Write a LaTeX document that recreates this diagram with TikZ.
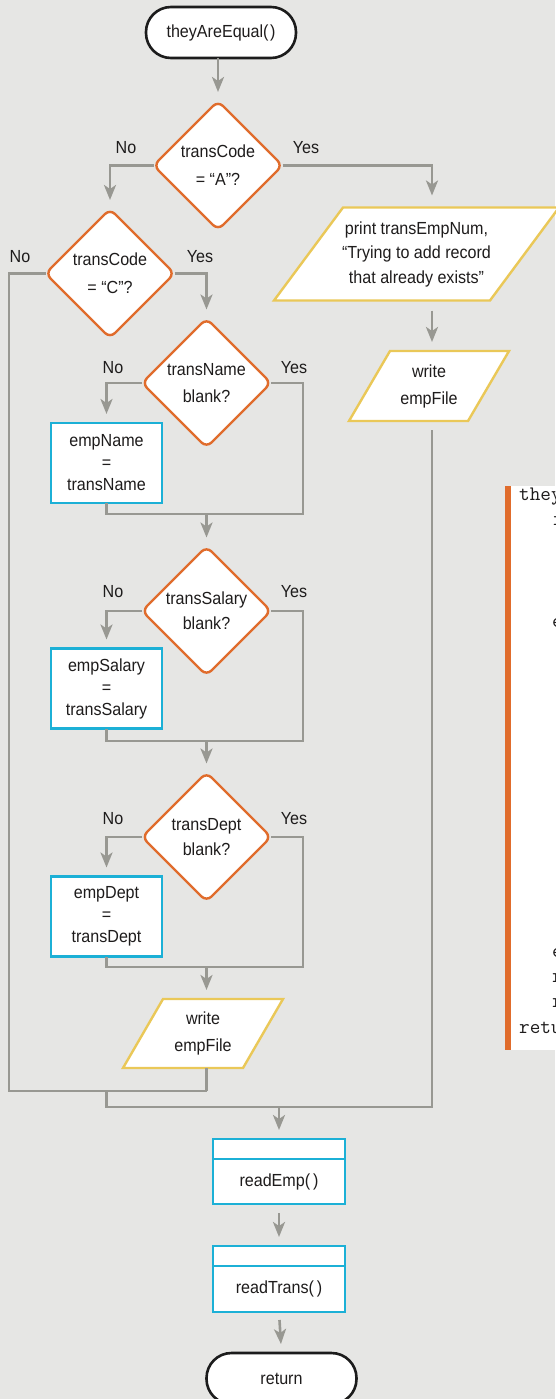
\documentclass[tikz,border=0pt]{standalone}
\usepackage{fontspec}
\setmainfont{Liberation Sans}[FakeStretch=0.92]
\usetikzlibrary{shapes.geometric,arrows.meta}
\pgfdeclarelayer{layerA}
\pgfdeclarelayer{layerB}
\pgfsetlayers{layerA,layerB,main}
\definecolor{bgc}{RGB}{230,230,228}
\definecolor{lnc}{RGB}{152,152,146}
\definecolor{orc}{RGB}{224,108,44}
\definecolor{cyc}{RGB}{28,176,214}
\definecolor{yec}{RGB}{234,200,88}
\definecolor{tmc}{RGB}{28,28,28}
\definecolor{txc}{RGB}{30,28,28}
\tikzset{
  base/.style={font=\fontsize{17.5}{22}\selectfont, text=txc, align=center, inner sep=0pt, outer sep=0pt},
  term/.style={base, draw=tmc, line width=2.6pt, fill=white, rounded corners=25pt, minimum width=150pt, minimum height=51pt},
  dec/.style={base, shape=diamond, aspect=1, draw=orc, line width=2.4pt, fill=white, rounded corners=7pt, minimum width=129pt, minimum height=129pt},
  proc/.style={base, draw=cyc, line width=2.8pt, fill=white, minimum width=111pt, minimum height=80pt},
  sub/.style={draw=cyc, line width=2.8pt, fill=white},
  iotext/.style={base},
  io/.style={draw=yec, line width=2.4pt, fill=white},
  conn/.style={draw=lnc, line width=2.6pt},
  arr/.style={conn, -{Stealth[length=15pt,width=12pt,inset=4pt]}, shorten >=9pt},
  lbl/.style={font=\fontsize{17.5}{20}\selectfont, text=txc, inner sep=0pt},
  code/.style={font=\ttfamily\fontsize{20.6}{25}\selectfont, text=txc, anchor=base west, inner sep=0pt},
}
\begin{document}
\begin{tikzpicture}[x=1pt,y=-1pt]
\useasboundingbox (0,0) rectangle (555,1399);
\clip (0,0) rectangle (555,1399);
\begin{pgfonlayer}{layerA}
\fill[bgc] (0,0) rectangle (555,1399);
\end{pgfonlayer}

% helper columns
\coordinate (rcol) at (432,0);

% nodes
\node[term] (start) at (221,32.5) {theyAreEqual(\kern1.5pt)};
\node[dec, font=\fontsize{17.5}{28}\selectfont] (d1) at (218,165.5) {transCode\\= “A”?};
\node[dec, font=\fontsize{17.5}{28}\selectfont] (d2) at (110,273.5) {transCode\\= “C”?};
\node[iotext, minimum width=216pt, minimum height=93pt, font=\fontsize{17.5}{24.5}\selectfont] (p1) at (416.5,254) {print transEmpNum,\\“Trying to add record\\that already exists”};
\node[iotext, minimum width=119pt, minimum height=70pt, font=\fontsize{17.5}{27}\selectfont] (w1) at (429,386) {write\\empFile};
\node[dec, font=\fontsize{17.5}{27}\selectfont] (d3) at (206.5,383) {transName\\blank?};
\node[proc] (b1) at (106.5,463) {empName\\=\\transName};
\node[dec, font=\fontsize{17.5}{25}\selectfont] (d4) at (206.5,611) {transSalary\\blank?};
\node[proc] (b2) at (106.5,688.5) {empSalary\\=\\transSalary};
\node[dec, font=\fontsize{17.5}{25}\selectfont] (d5) at (206.5,837) {transDept\\blank?};
\node[proc] (b3) at (106.5,916.5) {empDept\\=\\transDept};
\node[iotext, minimum width=120pt, minimum height=69pt, font=\fontsize{17.5}{27}\selectfont] (w2) at (203,1033.5) {write\\empFile};
\node[proc, minimum width=132pt, minimum height=45pt] (re) at (279,1181.5) {readEmp(\,)};
\node[proc, minimum width=132pt, minimum height=46pt] (rt) at (279,1289) {readTrans(\,)};
\node[term] (ret) at (281.5,1378.5) {return};

% sub-process top strips
\draw[sub] ([yshift=20pt]re.north west) rectangle (re.north east);
\draw[sub] ([yshift=20pt]rt.north west) rectangle (rt.north east);

% parallelograms
\begin{pgfonlayer}{layerB}
\draw[io] ([xshift=34.5pt]p1.north west) -- ([xshift=34.5pt]p1.north east) -- ([xshift=-34.5pt]p1.south east) -- ([xshift=-34.5pt]p1.south west) -- cycle;
\draw[io] ([xshift=20.5pt]w1.north west) -- ([xshift=20.5pt]w1.north east) -- ([xshift=-20.5pt]w1.south east) -- ([xshift=-20.5pt]w1.south west) -- cycle;
\draw[io] ([xshift=20pt]w2.north west) -- ([xshift=20pt]w2.north east) -- ([xshift=-20pt]w2.south east) -- ([xshift=-20pt]w2.south west) -- cycle;
\end{pgfonlayer}

% labels
\node[lbl] (l1n) at (126,148) {No};
\node[lbl] (l1y) at (306,148) {Yes};
\node[lbl] (l2n) at (20,257) {No};
\node[lbl] (l2y) at (200,257) {Yes};
\node[lbl] (l3n) at (113,368) {No};
\node[lbl] (l3y) at (294,368) {Yes};
\node[lbl] (l4n) at (113,592) {No};
\node[lbl] (l4y) at (294,592) {Yes};
\node[lbl] (l5n) at (113,819) {No};
\node[lbl] (l5y) at (294,819) {Yes};

% join coordinates
\coordinate (j1r) at (303,514);
\coordinate (j1) at (206.5,514);
\coordinate (j2r) at (303,741);
\coordinate (j2) at (206.5,741);
\coordinate (j3r) at (303,967);
\coordinate (j3) at (206.5,967);
\coordinate (m1l) at (9,1091);
\coordinate (m1) at (206.5,1091);
\coordinate (m1a) at (106.5,1091);
\coordinate (m2a) at (106.5,1107);
\coordinate (m2b) at (432,1107);
\coordinate (m3) at (279,1107);

% connectors
\draw[arr] (d1.north |- start.south) -- (d1.north);
\draw[arr] (d1.west) -| (d2.north);
\draw[arr, shorten >=12pt] (d1.east) -| (rcol |- p1.north);
\draw[arr, shorten <=10pt] (rcol |- p1.south) -- (rcol |- w1.north);
\draw[conn, shorten <=9pt] (rcol |- w1.south) -- (m2b) -- (m2a) -- (m1a);

\draw[arr] (d2.east) -| (d3.north);
\draw[conn] (d2.west) -| (m1l) -- (m1);

\draw[arr] (d3.west) -| (b1.north);
\draw[conn] (d3.east) -| (j1r) -| (b1.south);
\draw[arr] (j1) -- (d4.north);

\draw[arr] (d4.west) -| (b2.north);
\draw[conn] (d4.east) -| (j2r) -| (b2.south);
\draw[arr] (j2) -- (d5.north);

\draw[arr] (d5.west) -| (b3.north);
\draw[conn] (d5.east) -| (j3r) -| (b3.south);
\draw[arr] (j3) -- (m1 |- w2.north);
\draw[conn] (m1 |- w2.south) -- (m1);

\draw[arr] (m3) -- ([yshift=20pt]re.north);
\draw[arr, shorten <=9pt] (re.south) -- ([yshift=20pt]rt.north);
\draw[arr, shorten <=8pt] (rt.south) -- (ret.north);

% pseudocode panel (cut off at the right edge)
\fill[white] (511,486) rectangle (560,1050);
\fill[orc] (505,486) rectangle (511,1050);
\node[code] (c0) at (519,500) {theyAreEqual()};
\node[code] (c1) at (551.8,525.4) {if transCode = "A" then};
\node[code] (c5) at (551.8,627) {else};
\node[code] (c18) at (551.8,957) {endif};
\node[code] (c19) at (551.8,982.3) {readEmp()};
\node[code] (c20) at (551.8,1007.7) {readTrans()};
\node[code] (c21) at (519,1033) {return};
\end{tikzpicture}
\end{document}
